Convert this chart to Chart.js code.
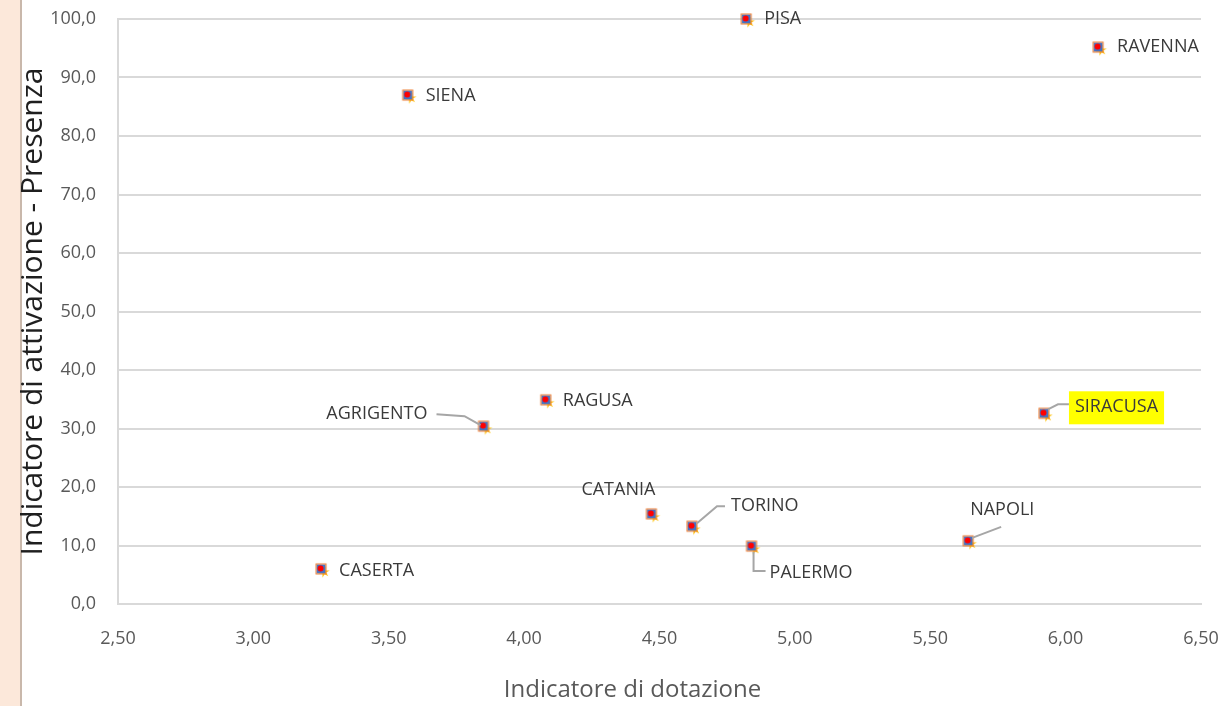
<!DOCTYPE html>
<html>
<head>
<meta charset="utf-8">
<script src="https://cdn.jsdelivr.net/npm/chart.js@4/dist/chart.umd.min.js"></script>
<style>
  html, body { margin: 0; padding: 0; background: #fff; }
  .strip { position: absolute; left: 0; top: 0; width: 20px; height: 706px; background: #fce8da; border-right: 2px solid #c9b8ab; }
  .wrap { position: absolute; left: 0; top: 0; width: 1227px; height: 706px; }
</style>
</head>
<body>
<div class="strip"></div>
<div class="wrap"><canvas id="myChart"></canvas></div>
<script>
'use strict'

const cities = ['PISA', 'RAVENNA', 'SIENA', 'RAGUSA', 'AGRIGENTO', 'SIRACUSA', 'CATANIA', 'TORINO', 'PALERMO', 'NAPOLI', 'CASERTA'];
const dotazione = [4.82, 6.12, 3.57, 4.08, 3.85, 5.92, 4.47, 4.62, 4.84, 5.64, 3.25];
const attivazione = [100.0, 95.2, 87.0, 34.9, 30.4, 32.6, 15.4, 13.3, 9.9, 10.8, 6.0];
const xTitle = 'Indicatore di dotazione';
const yTitle = 'Indicatore di attivazione - Presenza';

// label placement (pixel offsets from the marker) and leader lines
const labelStyle = {
  PISA:      { dx: 18, dy: 0, align: 'left' },
  RAVENNA:   { dx: 19, dy: 0, align: 'left' },
  SIENA:     { dx: 18, dy: 1, align: 'left' },
  RAGUSA:    { dx: 17, dy: 1, align: 'left' },
  AGRIGENTO: { dx: -56, dy: -12, align: 'right', leader: [[-3, -1], [-19, -10], [-47, -12]] },
  SIRACUSA:  { dx: 31, dy: -6, align: 'left', bg: '#ffff00', leader: [[4, -4], [14, -9], [25, -9]] },
  CATANIA:   { dx: -33, dy: -24, align: 'center' },
  TORINO:    { dx: 39, dy: -20, align: 'left', leader: [[5, -3], [25, -20], [33, -20]] },
  PALERMO:   { dx: 18, dy: 27, align: 'left', leader: [[2, 6], [2, 25], [14, 25]] },
  NAPOLI:    { dx: 2, dy: -31, align: 'left', leader: [[4, -3], [33, -14]] },
  CASERTA:   { dx: 18, dy: 2, align: 'left' }
};

function makeMarker() {
  const c = document.createElement('canvas');
  c.width = 22; c.height = 22;
  const g = c.getContext('2d');
  // star behind, shifted down-right
  g.fillStyle = '#ffc000';
  g.beginPath();
  const cx = 14, cy = 14;
  for (let i = 0; i < 12; i++) {
    const r = i % 2 === 0 ? 6 : 2.2;
    const a = Math.PI / 4 + i * Math.PI / 6;
    g.lineTo(cx + r * Math.cos(a), cy + r * Math.sin(a));
  }
  g.closePath();
  g.fill();
  // square
  g.fillStyle = '#4472c4';
  g.strokeStyle = '#ed7d31';
  g.lineWidth = 1;
  g.fillRect(6.5, 6.5, 9, 9);
  g.strokeRect(6, 6, 10, 10);
  // red dot
  g.fillStyle = '#ff0000';
  g.beginPath();
  g.arc(10.5, 10.5, 3, 0, Math.PI * 2);
  g.fill();
  return c;
}

const pointLabels = {
  id: 'pointLabels',
  afterDatasetsDraw(chart) {
    const ctx = chart.ctx;
    const meta = chart.getDatasetMeta(0);
    const area = chart.chartArea;
    ctx.save();
    ctx.font = '18px "Open Sans"';
    ctx.textBaseline = 'middle';
    meta.data.forEach((pt, i) => {
      const name = cities[i];
      const s = labelStyle[name];
      if (s.leader) {
        ctx.strokeStyle = '#a6a6a6';
        ctx.lineWidth = 2;
        ctx.beginPath();
        s.leader.forEach(([lx, ly], k) => {
          if (k === 0) ctx.moveTo(pt.x + lx, pt.y + ly);
          else ctx.lineTo(pt.x + lx, pt.y + ly);
        });
        ctx.stroke();
      }
      const tx = pt.x + s.dx, ty = pt.y + s.dy;
      ctx.textAlign = s.align;
      if (s.bg) {
        const w = ctx.measureText(name).width;
        ctx.fillStyle = s.bg;
        ctx.fillRect(tx - 6, ty - 16, w + 12, 33);
      }
      ctx.fillStyle = '#3a3a3a';
      ctx.fillText(name, tx, ty);
    });
    // x axis title, centred on the whole plot frame like the original
    ctx.font = '24px "Open Sans"';
    ctx.textAlign = 'center';
    ctx.fillStyle = '#595959';
    ctx.fillText(xTitle, (area.left + area.right) / 2 - 27, 690);
    ctx.restore();
  }
};

Chart.defaults.font.family = '"Open Sans", sans-serif';

new Chart(document.getElementById('myChart'), {
  type: 'scatter',
  data: {
    labels: cities,
    datasets: [{
      data: dotazione.map((x, i) => ({ x: x, y: attivazione[i] })),
      pointStyle: makeMarker(),
      clip: false
    }]
  },
  options: {
    responsive: true,
    maintainAspectRatio: false,
    animation: false,
    layout: { padding: { top: 19, right: 26, left: 0, bottom: 0 } },
    plugins: { legend: { display: false }, tooltip: { enabled: false } },
    scales: {
      x: {
        type: 'linear',
        min: 2.5,
        max: 6.5,
        ticks: {
          stepSize: 0.5,
          padding: 16,
          color: '#595959',
          font: { size: 18 },
          callback: v => v.toFixed(2).replace('.', ',')
        },
        grid: { display: false },
        border: { color: '#d9d9d9', width: 2 },
        afterFit: s => { s.height = 102; s.paddingLeft = 0; s.paddingRight = 0; }
      },
      y: {
        min: 0,
        max: 100,
        ticks: {
          stepSize: 10,
          padding: 22,
          color: '#595959',
          font: { size: 18 },
          callback: v => v.toFixed(1).replace('.', ',')
        },
        grid: { color: '#d9d9d9', lineWidth: 2, drawTicks: false },
        border: { color: '#d9d9d9', width: 2 },
        title: {
          display: true,
          text: yTitle,
          color: '#1f1f1f',
          font: { size: 30 },
          padding: { top: 15, bottom: 0 }
        },
        afterFit: s => { s.width = 118; s.paddingTop = 0; s.paddingBottom = 0; }
      }
    }
  },
  plugins: [pointLabels]
});
</script>
</body>
</html>
